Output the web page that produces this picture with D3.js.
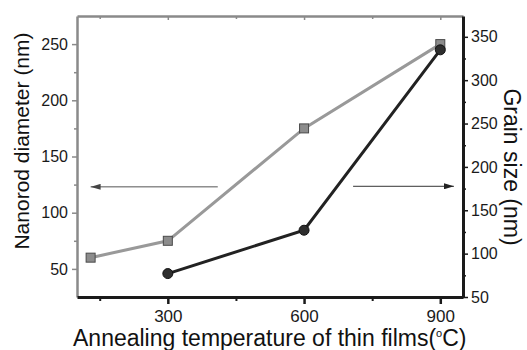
<!DOCTYPE html>
<html>
<head>
<meta charset="utf-8">
<script src="https://cdn.jsdelivr.net/npm/d3@7"></script>
<style>
  body { margin: 0; background: #fff; }
  svg { display: block; font-family: "Liberation Sans", Arial, sans-serif; }
</style>
</head>
<body>
<svg id="chart" width="527" height="350"></svg>
<script>
// ---- data ----
const diameterTemps = [130, 300, 600, 900];
const diameterValues = [60, 75, 175, 250];
const grainTemps = [300, 600, 900];
const grainValues = [77, 127, 335];
const xTicks = [300, 600, 900];
const xMinorTicks = [150, 450, 750];
const leftTicks = [50, 100, 150, 200, 250];
const leftMinorTicks = [75, 125, 175, 225];
const rightTicks = [50, 100, 150, 200, 250, 300, 350];
const rightMinorTicks = [75, 125, 175, 225, 275, 325];

const svg = d3.select("#chart");
const L = 77, R = 463, T = 16, B = 297;

const x = d3.scaleLinear().domain([100, 950]).range([L, R]);
const yL = d3.scaleLinear().domain([25, 275]).range([B, T]);
const yR = d3.scaleLinear().domain([50, 374]).range([B, T]);

const grayAxis = "#8a8a8a";
const darkAxis = "#1a1a1a";

function styleAxis(g, color, fontSize, width) {
  g.select(".domain").attr("stroke", color).attr("stroke-width", width);
  g.selectAll(".tick line").attr("stroke", color).attr("stroke-width", 1.5);
  g.selectAll(".tick text").attr("fill", "#1a1a1a").attr("font-size", fontSize)
    .attr("font-family", "Liberation Sans, Arial, sans-serif");
}

// top axis (gray, inward ticks)
const gTop = svg.append("g").attr("transform", `translate(0,${T})`)
  .call(d3.axisBottom(x).tickValues(xTicks).tickSize(4).tickSizeOuter(0).tickFormat(""));
styleAxis(gTop, grayAxis, 0, 2.5);
svg.append("g").attr("transform", `translate(0,${T})`)
  .call(d3.axisBottom(x).tickValues(xMinorTicks).tickSize(3).tickSizeOuter(0).tickFormat(""))
  .call(g => { g.select(".domain").remove(); g.selectAll(".tick line").attr("stroke", grayAxis).attr("stroke-width", 1.5); });

// left axis (gray)
const gLeft = svg.append("g").attr("transform", `translate(${L},0)`)
  .call(d3.axisLeft(yL).tickValues(leftTicks).tickSize(5).tickPadding(4).tickSizeOuter(0));
styleAxis(gLeft, grayAxis, 16, 2.5);
svg.append("g").attr("transform", `translate(${L},0)`)
  .call(d3.axisLeft(yL).tickValues(leftMinorTicks).tickSize(3).tickSizeOuter(0).tickFormat(""))
  .call(g => { g.select(".domain").remove(); g.selectAll(".tick line").attr("stroke", grayAxis).attr("stroke-width", 1.5); });

// right axis (dark)
const gRight = svg.append("g").attr("transform", `translate(${R},0)`)
  .call(d3.axisRight(yR).tickValues(rightTicks).tickSize(5).tickPadding(3).tickSizeOuter(0));
styleAxis(gRight, darkAxis, 16, 3);
svg.append("g").attr("transform", `translate(${R},0)`)
  .call(d3.axisRight(yR).tickValues(rightMinorTicks).tickSize(3).tickSizeOuter(0).tickFormat(""))
  .call(g => { g.select(".domain").remove(); g.selectAll(".tick line").attr("stroke", darkAxis).attr("stroke-width", 1.5); });

// bottom axis (dark)
const gBottom = svg.append("g").attr("transform", `translate(0,${B})`)
  .call(d3.axisBottom(x).tickValues(xTicks).tickSize(7).tickPadding(6).tickSizeOuter(0));
styleAxis(gBottom, darkAxis, 17, 3);
gBottom.selectAll(".tick line").attr("stroke-width", 2.5);
svg.append("g").attr("transform", `translate(0,${B})`)
  .call(d3.axisBottom(x).tickValues(xMinorTicks).tickSize(4).tickSizeOuter(0).tickFormat(""))
  .call(g => { g.select(".domain").remove(); g.selectAll(".tick line").attr("stroke", darkAxis).attr("stroke-width", 2); });

// diameter series (gray squares, left axis)
const lineL = d3.line().x((d, i) => x(diameterTemps[i])).y(d => yL(d));
svg.append("path").datum(diameterValues)
  .attr("d", lineL).attr("fill", "none").attr("stroke", "#999").attr("stroke-width", 3);
svg.selectAll(".sq").data(diameterValues).enter().append("rect")
  .attr("x", (d, i) => x(diameterTemps[i]) - 4.5)
  .attr("y", d => yL(d) - 4.5)
  .attr("width", 9).attr("height", 9)
  .attr("fill", "#8c8c8c").attr("stroke", "#4a4a4a").attr("stroke-width", 1);

// grain series (dark circles, right axis)
const lineR = d3.line().x((d, i) => x(grainTemps[i])).y(d => yR(d));
svg.append("path").datum(grainValues)
  .attr("d", lineR).attr("fill", "none").attr("stroke", "#222").attr("stroke-width", 3);
svg.selectAll(".ci").data(grainValues).enter().append("circle")
  .attr("cx", (d, i) => x(grainTemps[i]))
  .attr("cy", d => yR(d))
  .attr("r", 5)
  .attr("fill", "#2e2e2e").attr("stroke", "#111").attr("stroke-width", 1);

// arrows
const defs = svg.append("defs");
function marker(id, color) {
  defs.append("marker").attr("id", id).attr("viewBox", "0 0 10 6")
    .attr("refX", 10).attr("refY", 3).attr("markerWidth", 10).attr("markerHeight", 6)
    .attr("markerUnits", "userSpaceOnUse").attr("orient", "auto")
    .append("path").attr("d", "M0,0 L10,3 L0,6 Z").attr("fill", color);
}
marker("arrL", "#444");
marker("arrR", "#222");
svg.append("line")
  .attr("x1", x(410)).attr("x2", x(130)).attr("y1", yL(123)).attr("y2", yL(123))
  .attr("stroke", "#555").attr("stroke-width", 1).attr("marker-end", "url(#arrL)");
svg.append("line")
  .attr("x1", x(708)).attr("x2", x(930)).attr("y1", yL(123.5)).attr("y2", yL(123.5))
  .attr("stroke", "#333").attr("stroke-width", 1).attr("marker-end", "url(#arrR)");

// axis titles
const xt = svg.append("text").attr("x", 73).attr("y", 346)
  .attr("font-size", 23).attr("fill", "#111");
xt.append("tspan").text("Annealing temperature of thin films(");
xt.append("tspan").attr("font-size", 11).attr("dy", -9).text("o");
xt.append("tspan").attr("dy", 9).text("C)");

svg.append("text")
  .attr("transform", "translate(29,141) rotate(-90)")
  .attr("text-anchor", "middle").attr("font-size", 21).attr("fill", "#111")
  .text("Nanorod diameter (nm)");

svg.append("text")
  .attr("transform", "translate(504,167) rotate(90)")
  .attr("text-anchor", "middle").attr("font-size", 23).attr("fill", "#111")
  .text("Grain size (nm)");
</script>
</body>
</html>
